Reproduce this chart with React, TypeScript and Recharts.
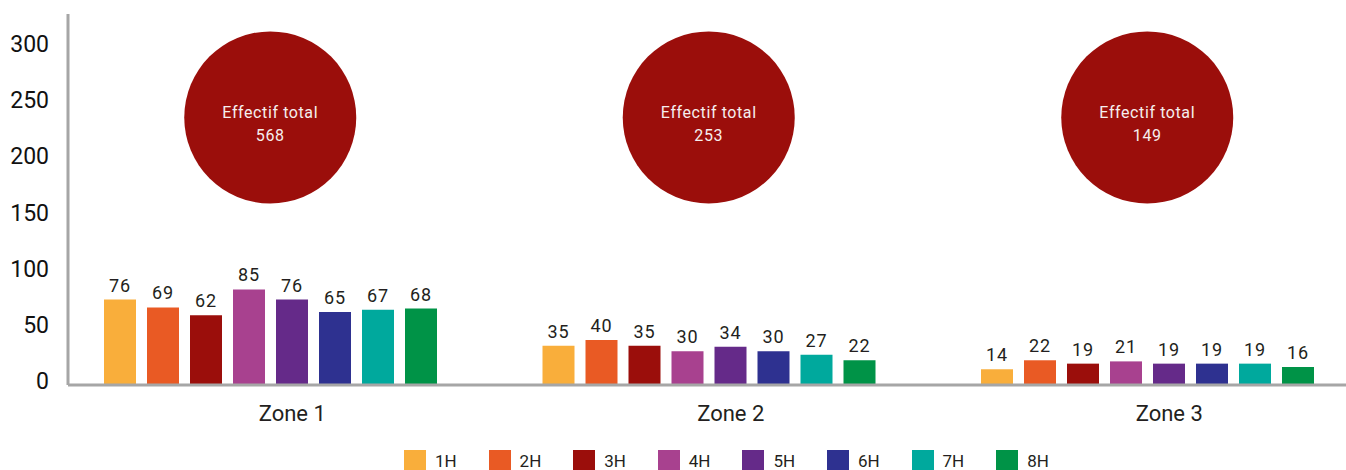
import React from "react";
import { BarChart, Bar, XAxis, YAxis, Legend, LabelList, ReferenceDot } from "recharts";

const zones = ["Zone 1", "Zone 2", "Zone 3"];
const series = ["1H", "2H", "3H", "4H", "5H", "6H", "7H", "8H"];
const colors = ["#F9AE3B", "#E95A24", "#9B0E0B", "#A8418F", "#652A89", "#2E3190", "#00A99D", "#009347"];

const h1 = [76, 35, 14];
const h2 = [69, 40, 22];
const h3 = [62, 35, 19];
const h4 = [85, 30, 21];
const h5 = [76, 34, 19];
const h6 = [65, 30, 19];
const h7 = [67, 27, 19];
const h8 = [68, 22, 16];
const values = [h1, h2, h3, h4, h5, h6, h7, h8];

const yTicks = [0, 50, 100, 150, 200, 250, 300];

const data = zones.map((zone, i) => {
    const row: Record<string, string | number> = { zone };
    series.forEach((s, j) => {
        row[s] = values[j][i];
    });
    return row;
});

const totals = zones.map((_, i) => values.reduce((sum, v) => sum + v[i], 0));

const BUBBLE_Y = 238;
const AXIS_GREY = "#a6a6a6";
const TEXT = "#231f20";

function Bubble(props: any) {
    const { cx, cy, total } = props;
    return (
        <g>
            <circle cx={cx} cy={cy} r={86} fill="#9B0E0B" />
            <text x={cx} y={cy - 4} textAnchor="middle" dominantBaseline="middle" fill="#f6eeee" fontSize={16} letterSpacing={0.6}>
                Effectif total
            </text>
            <text x={cx} y={cy + 19} textAnchor="middle" dominantBaseline="middle" fill="#f6eeee" fontSize={16} letterSpacing={0.6}>
                {total}
            </text>
        </g>
    );
}

function LegendRow() {
    return (
        <div style={{ display: "flex", alignItems: "center", height: 24, paddingLeft: 404 }}>
            {series.map((s, i) => (
                <div key={s} style={{ display: "flex", alignItems: "center", width: 84.6 }}>
                    <span style={{ display: "inline-block", width: 22, height: 22, background: colors[i] }} />
                    <span style={{ marginLeft: 9, fontSize: 17, color: TEXT }}>{s}</span>
                </div>
            ))}
        </div>
    );
}

export default function App() {
    return (
        <div style={{ position: "absolute", left: 0, top: 0, width: 1346, height: 470, fontFamily: "Roboto, sans-serif", background: "#fff" }}>
            <BarChart
                width={1346}
                height={470}
                data={data}
                margin={{ top: 14, right: 0, bottom: 0, left: 0 }}
                barSize={32}
                barGap={11}
            >
                <XAxis
                    dataKey="zone"
                    padding={{ left: -17, right: -20.5 }}
                    axisLine={{ stroke: AXIS_GREY, strokeWidth: 3 }}
                    tickLine={false}
                    tickSize={0}
                    tickMargin={20}
                    height={61}
                    tick={{ fontSize: 22, fill: TEXT, dx: 22 }}
                />
                <YAxis
                    width={68}
                    domain={[0, 330]}
                    ticks={yTicks}
                    allowDataOverflow
                    axisLine={{ stroke: AXIS_GREY, strokeWidth: 3 }}
                    tickLine={false}
                    tickSize={0}
                    tickMargin={19}
                    tick={{ fontSize: 23, fill: "#111", dy: -4 }}
                />
                <Legend
                    verticalAlign="bottom"
                    content={() => <LegendRow />}
                    wrapperStyle={{ left: 0, width: 1346, height: 24, bottom: "auto", top: 449 }}
                />
                {series.map((s, i) => (
                    <Bar key={s} dataKey={s} fill={colors[i]} isAnimationActive={false}>
                        <LabelList dataKey={s} position="top" offset={8} fill={TEXT} fontSize={18} letterSpacing={1} />
                    </Bar>
                ))}
                {zones.map((z, i) => (
                    <ReferenceDot
                        key={z}
                        x={z}
                        y={BUBBLE_Y}
                        r={86}
                        ifOverflow="visible"
                        shape={(p: any) => <Bubble {...p} total={totals[i]} />}
                    />
                ))}
            </BarChart>
        </div>
    );
}
